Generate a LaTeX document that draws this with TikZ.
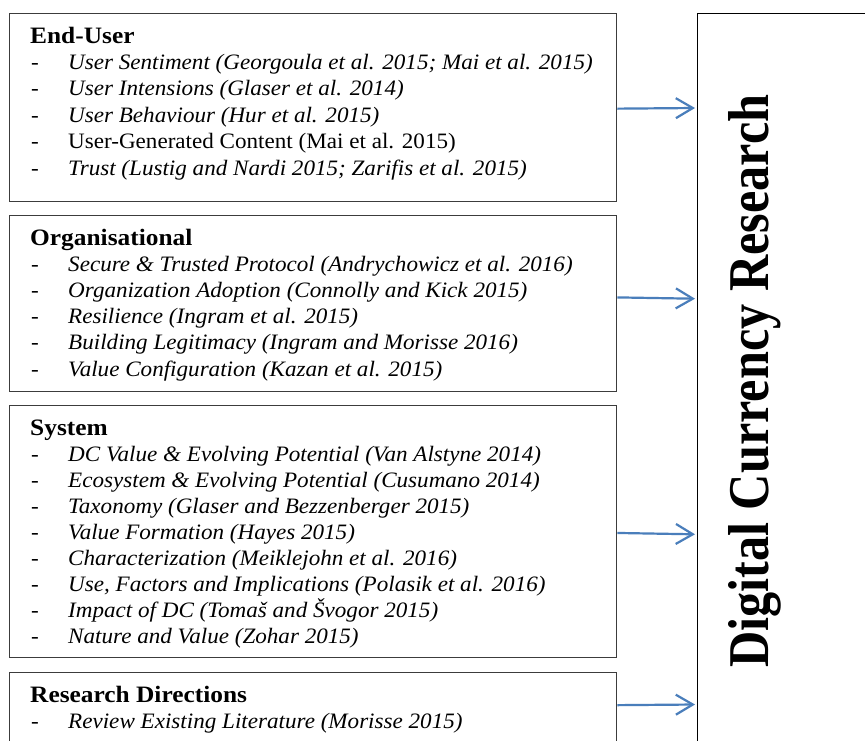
\documentclass[tikz,border=0pt]{standalone}
\usepackage{fontspec}
\setmainfont{Liberation Serif}
\newfontfamily\dcitemfont{Liberation Serif}[FakeStretch=1.05]
\newfontfamily\dcheadfont{Liberation Serif}[FakeStretch=1.08]
\usetikzlibrary{arrows.meta}
\definecolor{arrowblue}{RGB}{74,126,187}
\definecolor{boxline}{RGB}{60,60,60}
\newcommand\dcitem[4]{%
  \node[dashtxt] (#1d) at (31,#2) {-};
  \node[#3] (#1) at (68,#2) {#4};}
\begin{document}
\begin{tikzpicture}[x=1pt,y=-1pt,
  box/.style={draw=boxline, line width=1.3pt, inner sep=0pt, anchor=north west},
  headtxt/.style={anchor=base west, inner sep=0pt, font=\dcheadfont\fontsize{23.5}{26}\selectfont\bfseries},
  ittxt/.style={anchor=base west, inner sep=0pt, font=\dcitemfont\fontsize{22}{26}\selectfont\itshape},
  uptxt/.style={anchor=base west, inner sep=0pt, font=\dcitemfont\fontsize{22}{26}\selectfont},
  dashtxt/.style={anchor=base west, inner sep=0pt, font=\dcitemfont\fontsize{22}{26}\selectfont},
  conn/.style={draw=arrowblue, line width=2.2pt, -{Straight Barb[length=17pt,width=20pt]}}]
\clip (0,0) rectangle (865,740);
\fill[white] (0,0) rectangle (865,740);
% boxes
\node[box, minimum width=607pt, minimum height=187.5pt] (b1) at (9,13) {};
\node[box, minimum width=607pt, minimum height=175.5pt] (b2) at (9,215) {};
\node[box, minimum width=607pt, minimum height=252pt] (b3) at (9,405) {};
\node[box, minimum width=607pt, minimum height=100pt] (b4) at (9,672) {};
\node[box, draw=black, minimum width=220pt, minimum height=760pt] (R) at (697,13) {};
% box 1
\node[headtxt] (h1) at (30,43) {End-User};
\dcitem{a1}{69.4}{ittxt}{User Sentiment (Georgoula et al. 2015; Mai et al. 2015)}
\dcitem{a2}{95.8}{ittxt}{User Intensions (Glaser et al. 2014)}
\dcitem{a3}{122.2}{ittxt}{User Behaviour (Hur et al. 2015)}
\dcitem{a4}{148.6}{uptxt}{User-Generated Content (Mai et al. 2015)}
\dcitem{a5}{175}{ittxt}{Trust (Lustig and Nardi 2015; Zarifis et al. 2015)}
% box 2
\node[headtxt] (h2) at (30,245) {Organisational};
\dcitem{o1}{271.2}{ittxt}{Secure \& Trusted Protocol (Andrychowicz et al. 2016)}
\dcitem{o2}{297.4}{ittxt}{Organization Adoption (Connolly and Kick 2015)}
\dcitem{o3}{323.6}{ittxt}{Resilience (Ingram et al. 2015)}
\dcitem{o4}{349.8}{ittxt}{Building Legitimacy (Ingram and Morisse 2016)}
\dcitem{o5}{376}{ittxt}{Value Configuration (Kazan et al. 2015)}
% box 3
\node[headtxt] (h3) at (30,435) {System};
\dcitem{s1}{461}{ittxt}{DC Value \& Evolving Potential (Van Alstyne 2014)}
\dcitem{s2}{487.1}{ittxt}{Ecosystem \& Evolving Potential (Cusumano 2014)}
\dcitem{s3}{513.2}{ittxt}{Taxonomy (Glaser and Bezzenberger 2015)}
\dcitem{s4}{539.3}{ittxt}{Value Formation (Hayes 2015)}
\dcitem{s5}{565.4}{ittxt}{Characterization (Meiklejohn et al. 2016)}
\dcitem{s6}{591.5}{ittxt}{Use, Factors and Implications (Polasik et al. 2016)}
\dcitem{s7}{617.6}{ittxt}{Impact of DC (Tomaš and Švogor 2015)}
\dcitem{s8}{643.7}{ittxt}{Nature and Value (Zohar 2015)}
% box 4
\node[headtxt] (h4) at (30,702) {Research Directions};
\dcitem{r1}{728}{ittxt}{Review Existing Literature (Morisse 2015)}
% vertical title
\node[anchor=base west, inner sep=0pt, rotate=90] (title) at (768,668)
  {\resizebox{573pt}{40pt}{\bfseries Digital Currency Research}};
% arrows
\coordinate (t1) at (695,108);
\coordinate (t2) at (695,298.7);
\coordinate (t3) at (695,534.3);
\coordinate (t4) at (695,704.5);
\draw[conn] ([yshift=-1.25pt]b1.east) -- (t1);
\draw[conn] ([yshift=6pt]b2.east) -- (t2);
\draw[conn] ([yshift=-1.3pt]b3.east) -- (t3);
\draw[conn] ([yshift=17.5pt]b4.east) -- (t4);
\end{tikzpicture}
\end{document}
